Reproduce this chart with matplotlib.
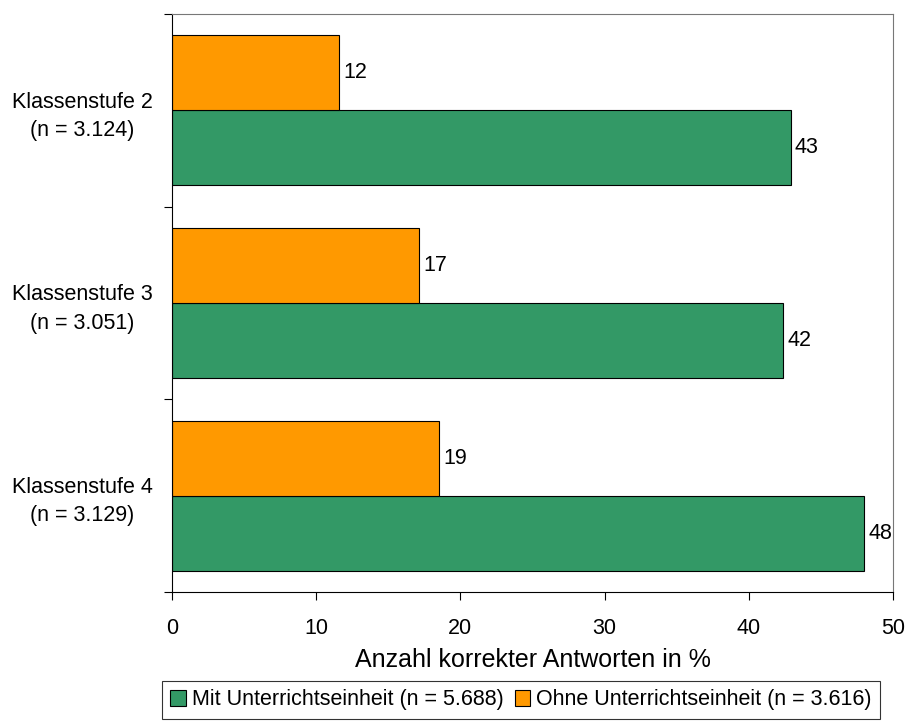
import numpy as np
import matplotlib.pyplot as plt

plt.rcParams['font.family'] = ['Liberation Sans', 'DejaVu Sans']

kategorien = ['Klassenstufe 2\n(n = 3.124)', 'Klassenstufe 3\n(n = 3.051)', 'Klassenstufe 4\n(n = 3.129)']
mit = [42.9, 42.4, 48.0]
ohne = [11.6, 17.1, 18.5]
mit_labels = ['43', '42', '48']
ohne_labels = ['12', '17', '19']
serien = ['Mit Unterrichtseinheit (n = 5.688)', 'Ohne Unterrichtseinheit (n = 3.616)']

fig = plt.figure(figsize=(9.07, 7.22), dpi=100)
ax = fig.add_axes([172/907, 1 - 592/722, (893-172)/907, (592-14)/722])

y = np.arange(len(kategorien))
h = 0.39
b1 = ax.barh(y + h/2, mit, height=h, color='#339966', edgecolor='black', linewidth=0.8, label=serien[0])
b2 = ax.barh(y - h/2, ohne, height=h, color='#FF9900', edgecolor='black', linewidth=0.8, label=serien[1])

for bar, txt in zip(b1, mit_labels):
    ax.text(bar.get_width() + 0.3, bar.get_y() + bar.get_height()/2, txt,
            va='center', ha='left', fontsize=15.5)
for bar, txt in zip(b2, ohne_labels):
    ax.text(bar.get_width() + 0.3, bar.get_y() + bar.get_height()/2, txt,
            va='center', ha='left', fontsize=15.5)

ax.set_xlim(0, 50)
ax.set_ylim(2.5, -0.5)
ax.set_xticks([0, 10, 20, 30, 40, 50])
ax.set_yticks(y)
ax.set_yticklabels(kategorien, fontsize=15.5)
ax.set_yticks([-0.5, 0.5, 1.5, 2.5], minor=True)
ax.tick_params(axis='y', which='major', length=0, pad=14)
ax.tick_params(axis='y', which='minor', length=6, direction='out', width=0.8)
ax.tick_params(axis='x', length=6, direction='out', width=0.8, labelsize=15.5, pad=13)
for lab in ax.get_yticklabels():
    lab.set_multialignment('center')
    lab.set_linespacing(1.45)
ax.set_xlabel('Anzahl korrekter Antworten in %', fontsize=18, labelpad=6)

for s in ['top', 'right']:
    ax.spines[s].set_color('#777777')
    ax.spines[s].set_linewidth(0.8)
for s in ['left', 'bottom']:
    ax.spines[s].set_linewidth(0.8)

leg = fig.legend(handles=[b1, b2], loc='center', bbox_to_anchor=(521/907, 1 - 700/722),
                 ncol=2, fontsize=15.5, frameon=True, fancybox=False, edgecolor='black',
                 handlelength=0.7, handleheight=0.7, handletextpad=0.3, columnspacing=0.5,
                 borderpad=0.4, borderaxespad=0)
leg.get_frame().set_linewidth(0.8)

fig.savefig('out.png', dpi=100)
